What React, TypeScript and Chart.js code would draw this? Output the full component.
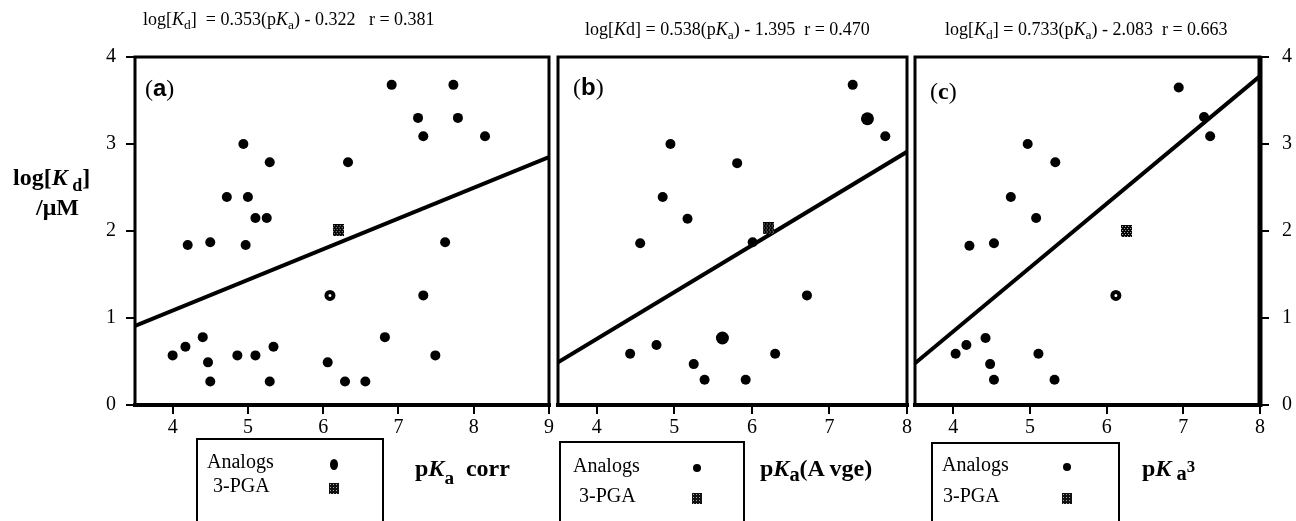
import React, { useEffect, useRef } from "react";
import { Chart, registerables } from "chart.js";
Chart.register(...registerables);

// ---------- data ----------
const xTicksA = [4, 5, 6, 7, 8, 9];
const xTicksBC = [4, 5, 6, 7, 8];
const yTicks = [0, 1, 2, 3, 4];

// Panel (a): pKa corr
const analogsAX = [6.91, 7.73, 7.26, 7.79, 7.33, 8.15, 4.94, 5.29, 6.33, 4.72, 5.0, 5.1, 5.25, 4.2, 4.5, 4.97, 7.62, 6.09, 7.33, 4.4, 6.82, 4.17, 5.34, 4.0, 4.86, 5.1, 7.49, 4.47, 6.06, 4.5, 5.29, 6.29, 6.56];
const analogsAY = [3.68, 3.68, 3.3, 3.3, 3.09, 3.09, 3.0, 2.79, 2.79, 2.39, 2.39, 2.15, 2.15, 1.84, 1.87, 1.84, 1.87, 1.26, 1.26, 0.78, 0.78, 0.67, 0.67, 0.57, 0.57, 0.57, 0.57, 0.49, 0.49, 0.27, 0.27, 0.27, 0.27];
const pgaAX = [6.2];
const pgaAY = [2.01];
const fitAX = [3.5, 9];
const fitAY = [0.91, 2.85];

// Panel (b): pKa (Avge)
const analogsBX = [7.3, 7.49, 7.72, 4.95, 5.81, 4.85, 5.17, 4.56, 6.01, 6.71, 5.62, 4.77, 4.43, 6.3, 5.25, 5.39, 5.92];
const analogsBY = [3.68, 3.29, 3.09, 3.0, 2.78, 2.39, 2.14, 1.86, 1.87, 1.26, 0.77, 0.69, 0.59, 0.59, 0.47, 0.29, 0.29];
const pgaBX = [6.21];
const pgaBY = [2.03];
const fitBX = [3.5, 8];
const fitBY = [0.49, 2.91];

// Panel (c): pKa3
const analogsCX = [6.94, 7.27, 7.35, 4.97, 5.33, 4.75, 5.08, 4.21, 4.53, 6.12, 4.42, 4.17, 4.03, 5.11, 4.48, 4.53, 5.32];
const analogsCY = [3.65, 3.31, 3.09, 3.0, 2.79, 2.39, 2.15, 1.83, 1.86, 1.26, 0.77, 0.69, 0.59, 0.59, 0.47, 0.29, 0.29];
const pgaCX = [6.26];
const pgaCY = [2.0];
const fitCX = [3.5, 8];
const fitCY = [0.48, 3.78];

const FONT = "'Liberation Serif', 'DejaVu Serif', serif";

const zip = (xs: number[], ys: number[]) => xs.map((x, i) => ({ x, y: ys[i] }));

function makePattern(w: number, h: number) {
  const c = document.createElement("canvas");
  c.width = w;
  c.height = h;
  const g = c.getContext("2d")!;
  g.fillStyle = "#000";
  g.fillRect(0, 0, w, h);
  g.fillStyle = "#bbb";
  for (let y = 1; y < h; y += 2)
    for (let x = y % 4 === 1 ? 1 : 0; x < w; x += 3) g.fillRect(x, y, 1, 1);
  return c;
}

type PanelCfg = {
  analogs: { x: number; y: number }[];
  pga: { x: number; y: number }[];
  fit: { x: number; y: number }[];
  xmax: number;
  xticks: number[];
  yPos: "left" | "right" | null;
  yWidth: number;
  padding: { left: number; right: number; top: number; bottom: number };
  big: number[];
  rings: number[];
  rightThick: boolean;
};

const boxPlugin = {
  id: "panelBox",
  afterDraw(chart: any, _a: any, opts: any) {
    const { ctx, chartArea } = chart;
    const { left, right, top, bottom } = chartArea;
    ctx.save();
    ctx.strokeStyle = "#000";
    ctx.lineWidth = 3;
    ctx.strokeRect(left, top, right - left, bottom - top);
    ctx.lineWidth = 4;
    ctx.beginPath();
    ctx.moveTo(left - 2, bottom);
    ctx.lineTo(right + 2, bottom);
    ctx.stroke();
    if (opts && opts.rightThick) {
      ctx.lineWidth = 5;
      ctx.beginPath();
      ctx.moveTo(right, top);
      ctx.lineTo(right, bottom + 2);
      ctx.stroke();
    }
    ctx.restore();
  },
};

function makeConfig(p: PanelCfg, pattern: HTMLCanvasElement): any {
  const tickFont = { family: FONT, size: 20 };
  const grid = {
    display: true,
    drawOnChartArea: false,
    drawTicks: true,
    tickLength: 9,
    lineWidth: 2,
    color: "#000",
  };
  return {
    type: "scatter",
    data: {
      datasets: [
        {
          type: "line",
          data: p.fit,
          borderColor: "#000",
          borderWidth: 4,
          pointRadius: 0,
          fill: false,
          order: 3,
        },
        {
          data: p.analogs,
          pointBackgroundColor: (c: any) => (p.rings.includes(c.dataIndex) ? "#fff" : "#000"),
          pointBorderColor: "#000",
          pointBorderWidth: (c: any) => (p.rings.includes(c.dataIndex) ? 4 : 0),
          pointRadius: (c: any) => (p.big.includes(c.dataIndex) ? 6.5 : p.rings.includes(c.dataIndex) ? 3.5 : 5),
          order: 1,
        },
        {
          data: p.pga,
          pointStyle: pattern,
          pointRadius: 6,
          order: 2,
        },
      ],
    },
    options: {
      animation: false,
      responsive: false,
      events: [],
      layout: { padding: p.padding },
      plugins: {
        legend: { display: false },
        tooltip: { enabled: false },
        panelBox: { rightThick: p.rightThick },
      },
      scales: {
        x: {
          type: "linear",
          min: 3.5,
          max: p.xmax,
          afterBuildTicks: (s: any) => {
            s.ticks = p.xticks.map((v) => ({ value: v }));
          },
          afterFit: (s: any) => {
            s.height = 40;
          },
          grid,
          border: { display: false },
          ticks: { font: tickFont, color: "#000", padding: 2, maxRotation: 0, autoSkip: false },
        },
        y: {
          type: "linear",
          display: p.yPos !== null,
          position: p.yPos || "left",
          min: 0,
          max: 4,
          afterBuildTicks: (s: any) => {
            s.ticks = yTicks.map((v) => ({ value: v }));
          },
          afterFit: (s: any) => {
            s.width = p.yWidth;
          },
          grid,
          border: { display: false },
          ticks: { font: tickFont, color: "#000", padding: p.yPos === "right" ? 13 : 10, autoSkip: false },
        },
      },
    },
    plugins: [boxPlugin],
  };
}

const panels: PanelCfg[] = [
  {
    analogs: zip(analogsAX, analogsAY),
    pga: zip(pgaAX, pgaAY),
    fit: zip(fitAX, fitAY),
    xmax: 9,
    xticks: xTicksA,
    yPos: "left",
    yWidth: 40,
    padding: { left: 95, right: 747, top: 57, bottom: 76 },
    big: [],
    rings: [17],
    rightThick: false,
  },
  {
    analogs: zip(analogsBX, analogsBY),
    pga: zip(pgaBX, pgaBY),
    fit: zip(fitBX, fitBY),
    xmax: 8,
    xticks: xTicksBC,
    yPos: null,
    yWidth: 0,
    padding: { left: 558, right: 389, top: 57, bottom: 76 },
    big: [1, 10],
    rings: [],
    rightThick: false,
  },
  {
    analogs: zip(analogsCX, analogsCY),
    pga: zip(pgaCX, pgaCY),
    fit: zip(fitCX, fitCY),
    xmax: 8,
    xticks: xTicksBC,
    yPos: "right",
    yWidth: 36,
    padding: { left: 915, right: 0, top: 57, bottom: 76 },
    big: [],
    rings: [9],
    rightThick: true,
  },
];

const abs = (left: number, cy: number, extra: React.CSSProperties = {}): React.CSSProperties => ({
  position: "absolute",
  left,
  top: cy,
  transform: "translateY(-50%)",
  whiteSpace: "nowrap",
  lineHeight: 1,
  fontFamily: FONT,
  color: "#000",
  ...extra,
});

const Sub = ({ children, dy = 4, size = "0.75em" }: any) => (
  <span style={{ position: "relative", top: dy, fontSize: size }}>{children}</span>
);

const Dot = ({ x, y, w = 8, h = 9 }: any) => (
  <div
    style={{
      position: "absolute",
      left: x - w / 2,
      top: y - h / 2,
      width: w,
      height: h,
      borderRadius: "50%",
      background: "#000",
    }}
  />
);

const PatternSq = ({ x, y }: any) => (
  <div
    style={{
      position: "absolute",
      left: x - 5,
      top: y - 5,
      width: 10,
      height: 11,
      background: "#111",
      backgroundImage: "radial-gradient(circle, #aaa 0.6px, transparent 0.9px)",
      backgroundSize: "3px 3px",
    }}
  />
);

const LegendBox = ({ left, top, width, aText, aY, pText, pY, mx, aDotH }: any) => (
  <>
    <div
      style={{
        position: "absolute",
        left,
        top,
        width,
        height: 100,
        border: "2px solid #000",
        boxSizing: "border-box",
      }}
    />
    <div style={abs(aText, aY, { fontSize: 20 })}>Analogs</div>
    <Dot x={mx} y={aY + 3} w={8} h={aDotH} />
    <div style={abs(pText, pY, { fontSize: 20 })}>3-PGA</div>
    <PatternSq x={mx} y={pY + 3} />
  </>
);

export default function App() {
  const refs = [useRef<HTMLCanvasElement>(null), useRef<HTMLCanvasElement>(null), useRef<HTMLCanvasElement>(null)];

  useEffect(() => {
    const pattern = makePattern(11, 12);
    const charts = panels.map((p, i) => new Chart(refs[i].current!, makeConfig(p, pattern)));
    return () => charts.forEach((c) => c.destroy());
  }, []);

  const canvasStyle: React.CSSProperties = {
    position: "absolute",
    left: 0,
    top: 0,
    width: 1296,
    height: 521,
  };

  return (
    <div
      style={{
        position: "absolute",
        left: 0,
        top: 0,
        width: 1296,
        height: 521,
        overflow: "hidden",
        background: "#fff",
      }}
    >
      {refs.map((r, i) => (
        <canvas key={i} ref={r} width={1296} height={521} style={canvasStyle} />
      ))}

      {/* equations */}
      <div style={abs(143, 19, { fontSize: 18 })}>
        log[<i>K</i>
        <Sub>d</Sub>] &nbsp;= 0.353(p<i>K</i>
        <Sub>a</Sub>) - 0.322 &nbsp;&nbsp;r = 0.381
      </div>
      <div style={abs(585, 29, { fontSize: 18 })}>
        log[<i>K</i>d] = 0.538(p<i>K</i>
        <Sub>a</Sub>) - 1.395 &nbsp;r = 0.470
      </div>
      <div style={abs(945, 29, { fontSize: 18 })}>
        log[<i>K</i>
        <Sub>d</Sub>] = 0.733(p<i>K</i>
        <Sub>a</Sub>) - 2.083 &nbsp;r = 0.663
      </div>

      {/* y-axis title */}
      <div style={abs(13, 177, { fontSize: 24, fontWeight: "bold" })}>
        log[<i>K</i>
        <Sub dy={6}> d</Sub>]
      </div>
      <div style={abs(36, 207, { fontSize: 24, fontWeight: "bold" })}>/μM</div>

      {/* panel labels */}
      <div style={abs(145, 88, { fontSize: 24 })}>
        (<b style={{ fontFamily: "'Liberation Sans', sans-serif" }}>a</b>)
      </div>
      <div style={abs(573, 87, { fontSize: 24 })}>
        (<b style={{ fontFamily: "'Liberation Sans', sans-serif" }}>b</b>)
      </div>
      <div style={abs(930, 91, { fontSize: 24 })}>
        (<b>c</b>)
      </div>

      {/* legends */}
      <LegendBox left={196} top={438} width={188} aText={207} aY={461} pText={213} pY={485} mx={334} aDotH={11} />
      <LegendBox left={559} top={441} width={186} aText={573} aY={465} pText={579} pY={495} mx={697} aDotH={8} />
      <LegendBox left={931} top={442} width={189} aText={942} aY={464} pText={943} pY={495} mx={1067} aDotH={8} />

      {/* x-axis titles */}
      <div style={abs(415, 468, { fontSize: 24, fontWeight: "bold" })}>
        p<i>K</i>
        <Sub dy={8} size="0.8em">a</Sub>
        &nbsp;&nbsp;corr
      </div>
      <div style={abs(760, 468, { fontSize: 24, fontWeight: "bold" })}>
        p<i>K</i>
        <Sub dy={5} size="0.85em">a</Sub>(A vge)
      </div>
      <div style={abs(1142, 468, { fontSize: 24, fontWeight: "bold" })}>
        p<i>K</i>
        <Sub dy={4} size="0.85em"> a</Sub>
        <span style={{ position: "relative", top: -4, fontSize: "0.7em" }}>3</span>
      </div>
    </div>
  );
}
